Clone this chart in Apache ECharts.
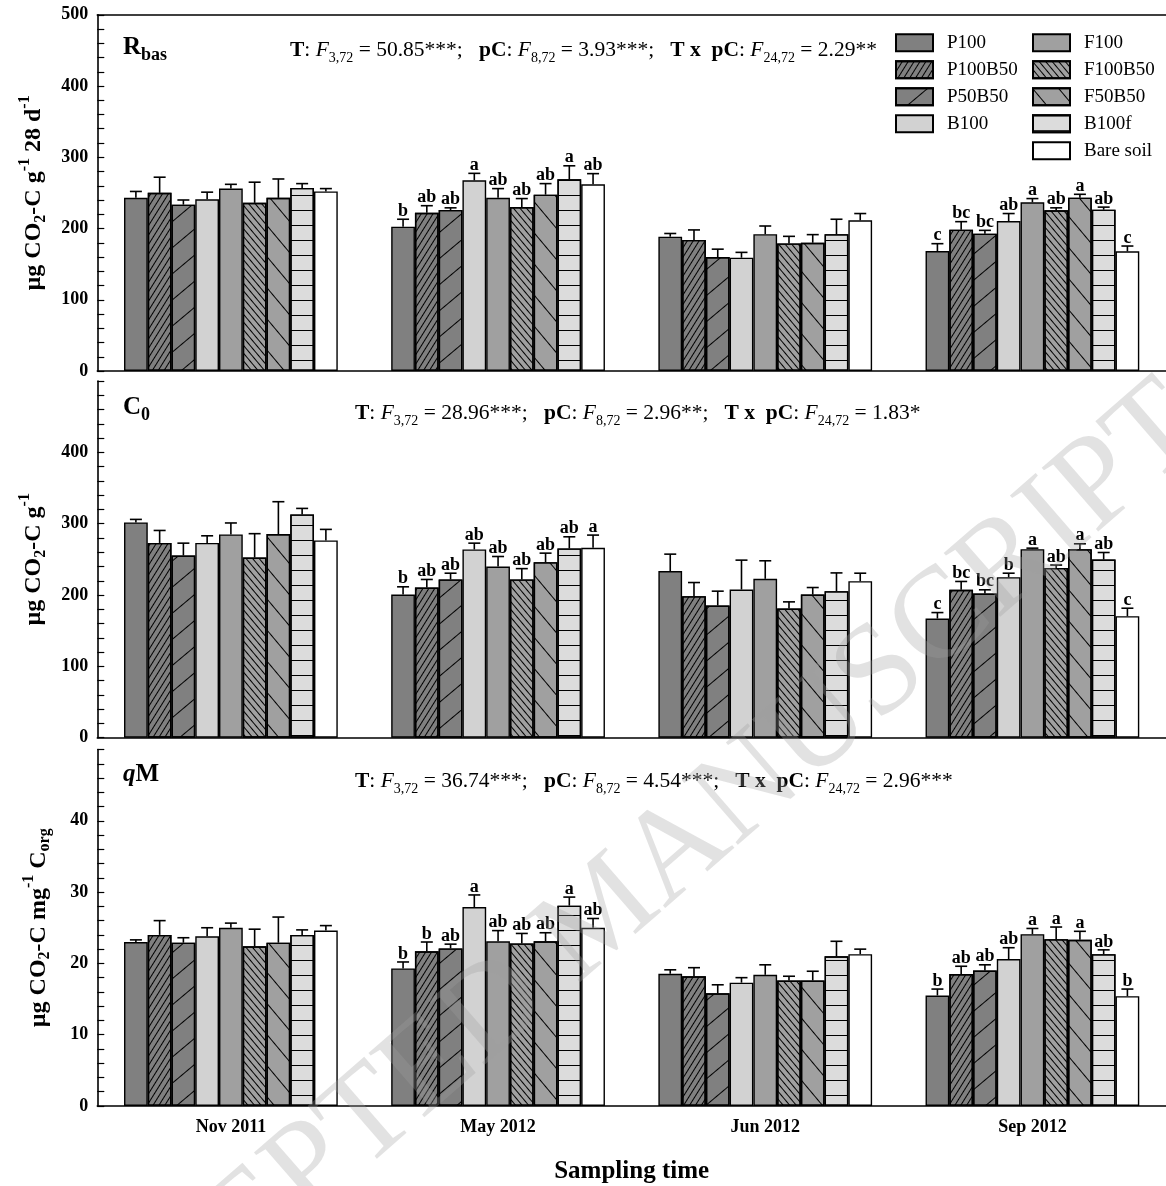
<!DOCTYPE html>
<html><head><meta charset="utf-8">
<script src="https://cdn.jsdelivr.net/npm/echarts@6/dist/echarts.min.js"></script>
<style>html,body{margin:0;padding:0;background:#fff}#c{width:1166px;height:1186px}</style>
</head><body><div id="c"></div>
<script>
const categories = ['Nov 2011', 'May 2012', 'Jun 2012', 'Sep 2012'];
const treatments = ['P100', 'P100B50', 'P50B50', 'B100', 'F100', 'F100B50', 'F50B50', 'B100f', 'Bare soil'];

// Rbas (µg CO2-C g-1 28 d-1), means per sampling time, treatments in order above
const rbasNov = [243, 250, 233.5, 241, 256, 236, 243, 257, 252];
const rbasMay = [202.6, 222, 226, 267.6, 243, 230, 247.5, 269, 262];
const rbasJun = [188.5, 184, 160, 159, 192, 179, 180, 192, 211.5];
const rbasSep = [168.4, 198.4, 192.7, 210.5, 236.7, 225.5, 243.3, 226.4, 168];
const rbasNovSe = [9, 22, 6.5, 10, 6, 29, 26.5, 6, 4];
const rbasMaySe = [10.4, 10, 3, 9.8, 13, 12, 15.5, 19, 15];
const rbasJunSe = [4.5, 14, 11, 7.5, 11.5, 10, 11.4, 21, 9.5];
const rbasSepSe = [10.3, 11.2, 4.7, 10.5, 5.3, 3.5, 4.7, 3.6, 7.4];
const rbasLetMay = ['b', 'ab', 'ab', 'a', 'ab', 'ab', 'ab', 'a', 'ab'];
const rbasLetSep = ['c', 'bc', 'bc', 'ab', 'a', 'ab', 'a', 'ab', 'c'];

// C0 (µg CO2-C g-1)
const c0Nov = [301.8, 273, 255.4, 273, 285, 252.6, 285.4, 313, 276.5];
const c0May = [200.7, 210.5, 221.8, 263.9, 240, 221.8, 246, 265.3, 266.2];
const c0Jun = [233.5, 198.4, 185.3, 207.7, 222.7, 181, 200.7, 205.4, 219.4];
const c0Sep = [167, 207.3, 202, 225, 264.3, 238, 264.3, 249.8, 170.3];
const c0NovSe = [4.2, 17.5, 17.3, 10, 16, 33.4, 45.4, 8.4, 15.5];
const c0MaySe = [10.8, 11.3, 8.8, 8.8, 14, 15.2, 12.7, 16.3, 17.8];
const c0JunSe = [23.8, 19.1, 20.1, 41.2, 25.3, 9.4, 9.8, 25.6, 11.2];
const c0SepSe = [8.4, 11.7, 5.3, 5.6, 1.4, 4, 7.5, 9.8, 11.2];
const c0LetMay = ['b', 'ab', 'ab', 'ab', 'ab', 'ab', 'ab', 'ab', 'a'];
const c0LetSep = ['c', 'bc', 'bc', 'b', 'a', 'ab', 'a', 'ab', 'c'];

// qM (µg CO2-C mg-1 Corg)
const qmNov = [23.0, 24.0, 22.9, 23.8, 25.0, 22.4, 22.9, 24.0, 24.6];
const qmMay = [19.3, 21.7, 22.1, 27.9, 23.1, 22.8, 23.1, 28.1, 25.0];
const qmJun = [18.55, 18.2, 15.8, 17.3, 18.4, 17.6, 17.6, 21.0, 21.3];
const qmSep = [15.5, 18.5, 19.0, 20.6, 24.1, 23.4, 23.3, 21.3, 15.4];
const qmNovSe = [0.3, 2.0, 0.7, 1.2, 0.65, 2.4, 3.6, 0.7, 0.7];
const qmMaySe = [0.9, 1.3, 0.6, 1.7, 1.5, 1.4, 1.2, 1.2, 1.3];
const qmJunSe = [0.55, 1.2, 1.2, 0.7, 1.4, 0.6, 1.3, 2.1, 0.7];
const qmSepSe = [0.9, 1.1, 0.8, 1.6, 0.8, 1.7, 1.2, 0.6, 1.0];
const qmLetMay = ['b', 'b', 'ab', 'a', 'ab', 'ab', 'ab', 'a', 'ab'];
const qmLetSep = ['b', 'ab', 'ab', 'ab', 'a', 'a', 'a', 'ab', 'b'];

const yTicksRbas = [0, 100, 200, 300, 400, 500];
const yTicksC0 = [0, 100, 200, 300, 400];
const yTicksQm = [0, 10, 20, 30, 40];

const SERIF = '"Liberation Serif", "Times New Roman", serif';
const fills = ['#808080', '#808080', '#808080', '#d2d2d2', '#a0a0a0', '#a0a0a0', '#a0a0a0', '#dcdcdc', '#ffffff'];
function hatch(deg, period, thick) {
  return { symbol: 'rect', symbolSize: 1, color: '#000', dashArrayX: [1, 0], dashArrayY: [thick, period - thick], rotation: deg * Math.PI / 180 };
}
const decals = [null, hatch(-58, 5, 1), hatch(-40, 20, 1), null, null, hatch(50, 5, 1), hatch(50, 20, 1), hatch(0, 15, 1), null];

const panels = [
  { means: [rbasNov, rbasMay, rbasJun, rbasSep], ses: [rbasNovSe, rbasMaySe, rbasJunSe, rbasSepSe], letters: [null, rbasLetMay, null, rbasLetSep], max: 500, step: 100, ticks: yTicksRbas, top: 14.75, height: 356.25 },
  { means: [c0Nov, c0May, c0Jun, c0Sep], ses: [c0NovSe, c0MaySe, c0JunSe, c0SepSe], letters: [null, c0LetMay, null, c0LetSep], max: 500, step: 100, ticks: yTicksC0, top: 381, height: 356.7 },
  { means: [qmNov, qmMay, qmJun, qmSep], ses: [qmNovSe, qmMaySe, qmJunSe, qmSepSe], letters: [null, qmLetMay, null, qmLetSep], max: 50, step: 10, ticks: yTicksQm, top: 749.5, height: 356.5 }
];

const tStyle = { t: { fontFamily: SERIF, fontSize: 24, fontWeight: 'bold', color: '#000', lineHeight: 30 },
  sub: { fontFamily: SERIF, fontSize: 16, fontWeight: 'bold', color: '#000', lineHeight: 16, padding: [14, 0, 0, 0] },
  sup: { fontFamily: SERIF, fontSize: 16, fontWeight: 'bold', color: '#000', lineHeight: 16, padding: [0, 0, 18, 0] } };
const yNames = [
  '{t|µg CO}{sub|2}{t|-C g}{sup|-1}{t| 28 d}{sup|-1}',
  '{t|µg CO}{sub|2}{t|-C g}{sup|-1}',
  '{t|µg CO}{sub|2}{t|-C mg}{sup|-1}{t| C}{sub|org}'
];

const grid = [], xAxis = [], yAxis = [], series = [];
panels.forEach((p, pi) => {
  grid.push({ left: 97.3, top: p.top, width: 1072, height: p.height });
  xAxis.push({ type: 'category', gridIndex: pi, data: categories, boundaryGap: true,
    axisLine: { show: true, lineStyle: { color: '#000', width: 1.6 } }, axisTick: { show: false },
    axisLabel: { show: pi === 2, margin: 12, fontFamily: SERIF, fontWeight: 'bold', fontSize: 18, color: '#000' },
    name: pi === 2 ? 'Sampling time' : '', nameLocation: 'middle', nameGap: 53,
    nameTextStyle: { fontFamily: SERIF, fontWeight: 'bold', fontSize: 25, color: '#000' } });
  yAxis.push({ type: 'value', gridIndex: pi, min: 0, max: p.max, interval: p.step,
    axisLine: { show: true, lineStyle: { color: '#000', width: 1.6 } },
    axisTick: { show: true, inside: true, length: 7, lineStyle: { color: '#000', width: 1.2 } },
    minorTick: { show: true, splitNumber: 5, length: 7, lineStyle: { color: '#000', width: 1.2 } },
    splitLine: { show: false },
    axisLabel: { margin: 9, fontFamily: SERIF, fontWeight: 'bold', fontSize: 18, color: '#000',
      formatter: v => (p.ticks.indexOf(v) >= 0 ? String(v) : '') },
    name: yNames[pi], nameLocation: 'middle', nameGap: 44, nameRotate: 90,
    nameTextStyle: { rich: tStyle } });
  treatments.forEach((t, ti) => {
    series.push({ name: t, type: 'bar', xAxisIndex: pi, yAxisIndex: pi, barGap: '0%', barCategoryGap: '20%',
      data: p.means.map(arr => arr[ti]),
      itemStyle: Object.assign({ color: fills[ti], borderColor: '#000', borderWidth: 1.4 }, decals[ti] ? { decal: decals[ti] } : {}),
      emphasis: { disabled: true }, silent: true, z: 2 });
  });
  const data = [];
  p.means.forEach((arr, ci) => arr.forEach((m, ti) => data.push([ci, ti, m, m + p.ses[ci][ti]])));
  series.push({ type: 'custom', xAxisIndex: pi, yAxisIndex: pi, z: 5, silent: true, clip: false,
    encode: { x: 0, y: 3 }, data,
    renderItem(params, api) {
      const ci = api.value(0), ti = api.value(1), m = api.value(2), top = api.value(3);
      const band = api.size([1, 0])[0];
      const bw = band * 0.8 / 9;
      const base = api.coord([ci, m]);
      const x = base[0] - band * 0.4 + bw * (ti + 0.5);
      const yT = api.coord([ci, top])[1];
      const children = [
        { type: 'line', shape: { x1: x, y1: base[1], x2: x, y2: yT }, style: { stroke: '#000', lineWidth: 1.6 } },
        { type: 'line', shape: { x1: x - 6, y1: yT, x2: x + 6, y2: yT }, style: { stroke: '#000', lineWidth: 1.6 } }
      ];
      const L = p.letters[ci] ? p.letters[ci][ti] : null;
      if (L) children.push({ type: 'text', x: x, y: yT + 1, style: { text: L, font: 'bold 18px ' + SERIF, align: 'center', verticalAlign: 'bottom', fill: '#000' } });
      return { type: 'group', children };
    } });
});
// top frame of first panel
xAxis.push({ type: 'category', gridIndex: 0, position: 'top', data: categories,
  axisLine: { show: true, lineStyle: { color: '#000', width: 1.6 } }, axisTick: { show: false }, axisLabel: { show: false } });

const sRich = {
  b: { fontFamily: SERIF, fontSize: 21.5, fontWeight: 'bold', color: '#000', lineHeight: 28 },
  n: { fontFamily: SERIF, fontSize: 21.5, fontWeight: 'normal', color: '#000', lineHeight: 28 },
  i: { fontFamily: SERIF, fontSize: 21.5, fontWeight: 'normal', fontStyle: 'italic', color: '#000', lineHeight: 28 },
  s: { fontFamily: SERIF, fontSize: 14, fontWeight: 'normal', color: '#000', lineHeight: 14, padding: [16, 0, 0, 0] },
  L: { fontFamily: SERIF, fontSize: 25, fontWeight: 'bold', color: '#000', lineHeight: 30 },
  Li: { fontFamily: SERIF, fontSize: 25, fontWeight: 'bold', fontStyle: 'italic', color: '#000', lineHeight: 30 },
  Ls: { fontFamily: SERIF, fontSize: 18, fontWeight: 'bold', color: '#000', lineHeight: 18, padding: [14, 0, 0, 0] }
};
function stat(a, b, c) {
  return '{b|T}{n|: }{i|F}{s|3,72}{n| = ' + a + ';   }{b|pC}{n|: }{i|F}{s|8,72}{n| = ' + b + ';   }{b|T x  pC}{n|: }{i|F}{s|24,72}{n| = ' + c + '}';
}
const title = [
  { text: '{L|R}{Ls|bas}', left: 123, top: 33 },
  { text: stat('50.85***', '3.93***', '2.29**'), left: 290, top: 36 },
  { text: '{L|C}{Ls|0}', left: 123, top: 393 },
  { text: stat('28.96***', '2.96**', '1.83*'), left: 355, top: 399 },
  { text: '{Li|q}{L|M}', left: 123, top: 760 },
  { text: stat('36.74***', '4.54***', '2.96***'), left: 355, top: 767 }
].map(o => Object.assign(o, { padding: 0, textStyle: { rich: sRich } }));

const legendBase = { orient: 'vertical', top: 33.2, padding: 0, itemWidth: 37, itemHeight: 17, itemGap: 8, icon: 'rect',
  selectedMode: false, textStyle: { fontFamily: SERIF, fontSize: 19, color: '#000', lineHeight: 17, padding: [0, 0, 0, 9] } };
const legend = [
  Object.assign({ left: 895, data: treatments.slice(0, 4) }, legendBase),
  Object.assign({ left: 1032, data: treatments.slice(4) }, legendBase)
];

const chart = echarts.init(document.getElementById('c'), null, { renderer: 'canvas' });
chart.setOption({
  animation: false, backgroundColor: '#fff', textStyle: { fontFamily: SERIF },
  grid, xAxis, yAxis, series, title, legend,
  graphic: [{ type: 'text', x: 605, y: 915, rotation: 41 * Math.PI / 180, z: 100, silent: true,
    style: { text: 'ACCEPTED MANUSCRIPT', font: '130px ' + SERIF, fill: 'rgba(160,160,160,0.3)', align: 'center', verticalAlign: 'middle' } }]
});
</script></body></html>
